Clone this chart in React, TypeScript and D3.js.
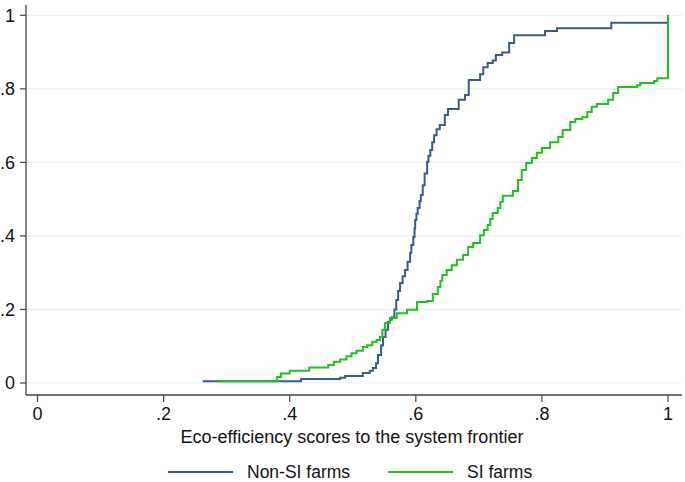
import React from "react";
import * as d3 from "d3";

const nonSiX = [0.262, 0.418, 0.480, 0.488, 0.516, 0.527, 0.532, 0.537, 0.540, 0.545, 0.548, 0.552, 0.556, 0.559, 0.562, 0.566, 0.569, 0.572, 0.575, 0.579, 0.583, 0.587, 0.591, 0.593, 0.596, 0.598, 0.599, 0.601, 0.603, 0.606, 0.608, 0.611, 0.614, 0.618, 0.620, 0.623, 0.626, 0.629, 0.633, 0.638, 0.646, 0.651, 0.668, 0.678, 0.684, 0.702, 0.707, 0.714, 0.722, 0.727, 0.737, 0.748, 0.756, 0.805, 0.824, 0.910, 1.0];
const nonSiY = [0.005, 0.011, 0.014, 0.019, 0.027, 0.033, 0.041, 0.054, 0.076, 0.103, 0.125, 0.145, 0.166, 0.172, 0.179, 0.200, 0.226, 0.250, 0.272, 0.290, 0.307, 0.330, 0.354, 0.375, 0.397, 0.420, 0.443, 0.460, 0.476, 0.495, 0.511, 0.538, 0.570, 0.601, 0.618, 0.634, 0.655, 0.674, 0.690, 0.702, 0.729, 0.745, 0.770, 0.783, 0.824, 0.840, 0.859, 0.870, 0.877, 0.892, 0.899, 0.925, 0.946, 0.957, 0.965, 0.980, 1.0];

const siX = [0.286, 0.380, 0.386, 0.400, 0.431, 0.461, 0.470, 0.480, 0.490, 0.498, 0.506, 0.516, 0.523, 0.531, 0.538, 0.543, 0.547, 0.551, 0.559, 0.570, 0.586, 0.602, 0.618, 0.627, 0.635, 0.639, 0.642, 0.649, 0.657, 0.665, 0.675, 0.683, 0.691, 0.702, 0.708, 0.714, 0.718, 0.722, 0.730, 0.734, 0.738, 0.754, 0.762, 0.768, 0.775, 0.784, 0.792, 0.800, 0.813, 0.826, 0.833, 0.845, 0.853, 0.864, 0.872, 0.879, 0.887, 0.905, 0.913, 0.921, 0.951, 0.956, 0.978, 0.983, 1.0];
const siY = [0.005, 0.016, 0.026, 0.033, 0.042, 0.049, 0.058, 0.064, 0.073, 0.081, 0.088, 0.098, 0.103, 0.112, 0.117, 0.125, 0.145, 0.163, 0.177, 0.190, 0.199, 0.220, 0.223, 0.242, 0.261, 0.278, 0.294, 0.307, 0.320, 0.335, 0.348, 0.370, 0.381, 0.402, 0.416, 0.430, 0.446, 0.462, 0.476, 0.493, 0.509, 0.522, 0.552, 0.579, 0.598, 0.612, 0.626, 0.639, 0.655, 0.669, 0.688, 0.710, 0.718, 0.723, 0.737, 0.751, 0.759, 0.770, 0.789, 0.805, 0.810, 0.816, 0.821, 0.829, 1.0];

const xTicks = [0, 0.2, 0.4, 0.6, 0.8, 1];
const yTicks = [0, 0.2, 0.4, 0.6, 0.8, 1];
const tickLabel = (v: number) => (v === 0 ? "0" : v === 1 ? "1" : String(v).replace(/^0/, ""));

const seriesNames = ["Non-SI farms", "SI farms"];
const seriesColors = ["#3a5b88", "#22bf22"];

export default function App() {
  const W = 685, H = 482;
  const x = d3.scaleLinear().domain([0, 1]).range([37.5, 668]);
  const y = d3.scaleLinear().domain([0, 1]).range([383, 15.3]);
  const font = "'Liberation Sans', Arial, sans-serif";
  const line = d3
    .line<[number, number]>()
    .x((d) => x(d[0]))
    .y((d) => y(d[1]))
    .curve(d3.curveStepAfter);
  const series: [number, number][][] = [
    nonSiX.map((v, i) => [v, nonSiY[i]] as [number, number]),
    siX.map((v, i) => [v, siY[i]] as [number, number]),
  ];
  const axisX0 = 26, axisY0 = 395, plotRight = 682;
  const legendItems = [
    { lx: 168, tx: 247 },
    { lx: 388, tx: 467 },
  ];
  return (
    <>
      <style>{"body{margin:0}"}</style>
      <svg width={W} height={H} style={{ display: "block", background: "#fff" }} fontFamily={font}>
        {yTicks.map((t) => (
          <line key={"g" + t} x1={axisX0 + 1} x2={plotRight} y1={y(t)} y2={y(t)} stroke="#e9f1f3" strokeWidth={1.2} />
        ))}
        {series.map((s, i) => (
          <path key={i} d={line(s) || ""} fill="none" stroke={seriesColors[i]} strokeWidth={2} />
        ))}
        <line x1={axisX0} x2={axisX0} y1={5} y2={axisY0} stroke="#444" strokeWidth={1.3} />
        <line x1={axisX0} x2={plotRight} y1={axisY0} y2={axisY0} stroke="#444" strokeWidth={1.3} />
        {yTicks.map((t) => (
          <g key={"y" + t}>
            <line x1={20} x2={axisX0} y1={y(t)} y2={y(t)} stroke="#444" strokeWidth={1.2} />
            <text x={15} y={y(t)} dy="0.36em" textAnchor="end" fontSize={18} fill="#111">
              {tickLabel(t)}
            </text>
          </g>
        ))}
        {xTicks.map((t) => (
          <g key={"x" + t}>
            <line x1={x(t)} x2={x(t)} y1={axisY0} y2={axisY0 + 7} stroke="#444" strokeWidth={1.2} />
            <text x={x(t)} y={420} textAnchor="middle" fontSize={18} fill="#111">
              {tickLabel(t)}
            </text>
          </g>
        ))}
        <text x={352} y={443} textAnchor="middle" fontSize={18} fill="#111">
          Eco-efficiency scores to the system frontier
        </text>
        {legendItems.map((l, i) => (
          <g key={"l" + i}>
            <line x1={l.lx} x2={l.lx + 65} y1={472} y2={472} stroke={seriesColors[i]} strokeWidth={2} />
            <text x={l.tx} y={478} fontSize={17.5} fill="#111">
              {seriesNames[i]}
            </text>
          </g>
        ))}
      </svg>
    </>
  );
}
